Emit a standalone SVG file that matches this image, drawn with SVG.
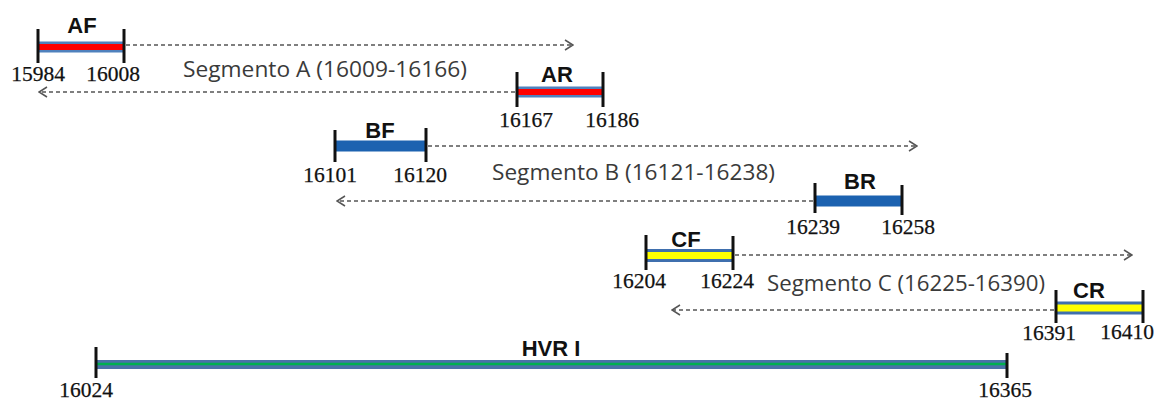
<svg xmlns="http://www.w3.org/2000/svg" width="1156" height="401" viewBox="0 0 1156 401">
<defs>
<style>
.tick{stroke:#111;stroke-width:3;}
.outer{stroke:#4f81bd;stroke-width:11;}
.red{stroke:#ff0000;stroke-width:6;}
.solid{stroke:#1c62b0;stroke-width:11;}
.cout{stroke:#3f6fae;stroke-width:13;}
.yel{stroke:#ffff00;stroke-width:7;}
.hout{stroke:#4a72a8;stroke-width:9;}
.grn{stroke:#00b050;stroke-width:2.5;}
.lab{font-family:"Liberation Sans",Arial,sans-serif;font-weight:bold;font-size:22px;fill:#111;text-anchor:middle;}
.num{font-family:"Liberation Serif","Times New Roman",serif;font-size:21.5px;fill:#111;stroke:#111;stroke-width:0.25;text-anchor:middle;}
.seg{font-family:"Open Sans","Liberation Sans",sans-serif;font-size:21px;fill:#3a3a3a;}
.dash{stroke:#555;stroke-width:1.3;stroke-dasharray:4 3;fill:none;}
</style>
<marker id="ah" viewBox="0 0 10 12" refX="9" refY="6" markerWidth="10" markerHeight="12" markerUnits="userSpaceOnUse" orient="auto">
<path d="M1,1 L9,6 L1,11" fill="none" stroke="#555" stroke-width="1.5"/>
</marker>
</defs>
<rect width="1156" height="401" fill="#ffffff"/>

<g id="connectors">
<line class="dash" x1="126" y1="45" x2="573" y2="45" marker-end="url(#ah)"/>
<line class="dash" x1="515" y1="92" x2="39" y2="92" marker-end="url(#ah)"/>
<line class="dash" x1="428" y1="146" x2="917" y2="146" marker-end="url(#ah)"/>
<line class="dash" x1="813" y1="201" x2="337" y2="201" marker-end="url(#ah)"/>
<line class="dash" x1="735" y1="255" x2="1132" y2="255" marker-end="url(#ah)"/>
<line class="dash" x1="1054" y1="310" x2="672" y2="310" marker-end="url(#ah)"/>
<text class="seg" x="183" y="77" textLength="284" lengthAdjust="spacingAndGlyphs">Segmento A (16009-16166)</text>
<text class="seg" x="492" y="180" textLength="283" lengthAdjust="spacingAndGlyphs">Segmento B (16121-16238)</text>
<text class="seg" x="767" y="291" textLength="278" lengthAdjust="spacingAndGlyphs">Segmento C (16225-16390)</text>
</g>

<g id="AF">
<line class="outer" x1="38" y1="47" x2="124" y2="47"/>
<line class="red" x1="38" y1="47" x2="124" y2="47"/>
<line class="tick" x1="38" y1="29" x2="38" y2="63"/>
<line class="tick" x1="124" y1="29" x2="124" y2="63"/>
<text class="lab" x="82" y="33">AF</text>
<text class="num" x="38" y="81">15984</text>
<text class="num" x="113" y="81">16008</text>
</g>

<g id="AR">
<line class="outer" x1="517" y1="92" x2="603" y2="92"/>
<line class="red" x1="517" y1="92" x2="603" y2="92"/>
<line class="tick" x1="517" y1="72" x2="517" y2="107"/>
<line class="tick" x1="603" y1="72" x2="603" y2="107"/>
<text class="lab" x="557" y="82">AR</text>
<text class="num" x="526" y="127">16167</text>
<text class="num" x="612" y="127">16186</text>
</g>

<g id="BF">
<line class="solid" x1="335" y1="146" x2="426" y2="146"/>
<line class="tick" x1="335" y1="130" x2="335" y2="162"/>
<line class="tick" x1="426" y1="128" x2="426" y2="162"/>
<text class="lab" x="380" y="138">BF</text>
<text class="num" x="330" y="182">16101</text>
<text class="num" x="420" y="182">16120</text>
</g>

<g id="BR">
<line class="solid" x1="815" y1="201" x2="902" y2="201"/>
<line class="tick" x1="815" y1="183" x2="815" y2="213"/>
<line class="tick" x1="902" y1="185" x2="902" y2="215"/>
<text class="lab" x="860" y="189">BR</text>
<text class="num" x="813" y="234">16239</text>
<text class="num" x="908" y="234">16258</text>
</g>

<g id="CF">
<line class="cout" x1="646" y1="255.5" x2="733" y2="255.5"/>
<line class="yel" x1="646" y1="255.5" x2="733" y2="255.5"/>
<line class="tick" x1="646" y1="235" x2="646" y2="270"/>
<line class="tick" x1="733" y1="236" x2="733" y2="270"/>
<text class="lab" x="686" y="247">CF</text>
<text class="num" x="639" y="288">16204</text>
<text class="num" x="727" y="288">16224</text>
</g>

<g id="CR">
<line class="cout" x1="1056" y1="308" x2="1143" y2="308"/>
<line class="yel" x1="1056" y1="308" x2="1143" y2="308"/>
<line class="tick" x1="1056" y1="290" x2="1056" y2="323"/>
<line class="tick" x1="1143" y1="290" x2="1143" y2="323"/>
<text class="lab" x="1089" y="298">CR</text>
<text class="num" x="1049" y="340">16391</text>
<text class="num" x="1127" y="339">16410</text>
</g>

<g id="HVRI">
<line class="hout" x1="96" y1="364.5" x2="1007" y2="364.5"/>
<line class="grn" x1="96" y1="364" x2="1007" y2="364"/>
<line class="tick" x1="96" y1="347" x2="96" y2="378"/>
<line class="tick" x1="1007" y1="353" x2="1007" y2="378"/>
<text class="lab" x="551" y="356">HVR I</text>
<text class="num" x="86" y="397">16024</text>
<text class="num" x="1005" y="397">16365</text>
</g>
</svg>
